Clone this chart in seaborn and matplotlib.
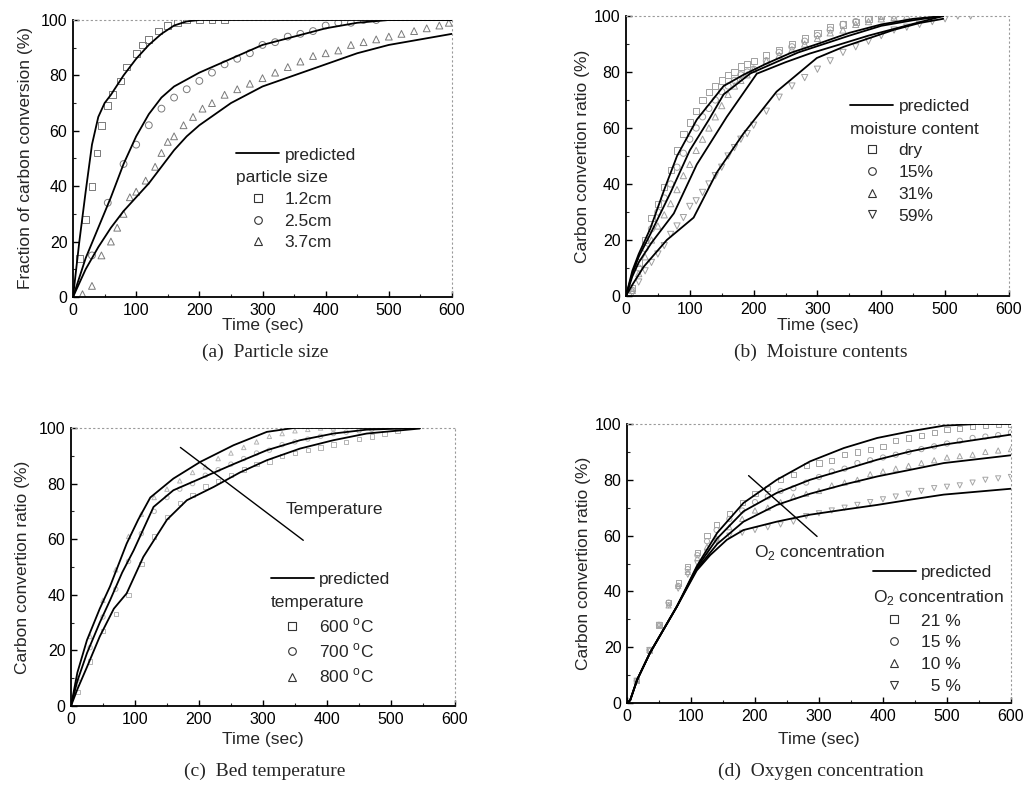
#!/usr/bin/env python3
"""Carbon conversion vs time: four parameter studies (predicted vs measured)."""

import matplotlib

matplotlib.use("Agg")
import matplotlib.pyplot as plt
import seaborn as sns
from matplotlib.lines import Line2D
from matplotlib.ticker import MultipleLocator

# ---------------- (a) particle size ----------------
a_labels = ["1.2cm", "2.5cm", "3.7cm"]
a_pred_t = [
    [0, 10, 20, 30, 40, 50, 60, 80, 100, 120, 140, 160, 180, 200, 600],
    [0, 20, 40, 60, 80, 100, 120, 140, 160, 200, 250, 300, 350, 400, 450, 500, 600],
    [0, 20, 40, 60, 80, 100, 120, 140, 160, 180, 200, 250, 300, 350, 400, 450, 500, 550, 600],
]
a_pred_y = [
    [0, 20, 38, 55, 65, 70, 73, 80, 86, 91, 95, 98, 99.5, 100, 100],
    [0, 14, 25, 36, 48, 58, 66, 72, 76, 81, 86, 91, 94, 97, 99, 100, 100],
    [0, 10, 18, 25, 31, 36, 41, 47, 53, 58, 62, 70, 76, 80, 84, 88, 91, 93, 95],
]
a_exp_t = [
    [10, 20, 30, 38, 45, 55, 62, 75, 85, 100, 110, 120, 135, 150, 165, 180, 200, 220, 240],
    [30, 55, 80, 100, 120, 140, 160, 180, 200, 220, 240, 260, 280, 300, 320, 340, 360,
     380, 400, 420, 440, 460, 480],
    [15, 30, 45, 60, 70, 80, 90, 100, 115, 130, 140, 150, 160, 175, 190, 205, 220, 240,
     260, 280, 300, 320, 340, 360, 380, 400, 420, 440, 460, 480, 500, 520, 540, 560, 580, 595],
]
a_exp_y = [
    [14, 28, 40, 52, 62, 69, 73, 78, 83, 88, 91, 93, 96, 98, 99, 100, 100, 100, 100],
    [15, 34, 48, 55, 62, 68, 72, 75, 78, 81, 84, 86, 88, 91, 92, 94, 95, 96, 98, 99, 99,
     100, 100],
    [1, 4, 15, 20, 25, 30, 36, 38, 42, 47, 52, 56, 58, 62, 65, 68, 70, 73, 75, 77, 79, 81,
     83, 85, 87, 88, 89, 91, 92, 93, 94, 95, 96, 97, 98, 99],
]

# ---------------- (b) moisture content ----------------
b_labels = ["dry", "15%", "31%", "59%"]
b_pred_t = [
    [0, 10, 20, 38, 60, 80, 111, 153, 184, 220, 260, 300, 350, 400, 450, 497],
    [0, 10, 20, 38, 70, 100, 130, 153, 195, 230, 270, 310, 350, 400, 450, 497],
    [0, 10, 20, 40, 75, 111, 158, 205, 250, 288, 330, 380, 430, 497],
    [0, 10, 28, 64, 106, 142, 184, 236, 299, 341, 380, 419, 460, 497],
]
b_pred_y = [
    [0, 9, 15, 24, 38, 50, 63, 75, 79, 83, 87, 90, 94, 97, 99, 100],
    [0, 8, 14, 22, 37, 52, 63, 72, 79.5, 83, 87, 90, 93, 96.5, 98.5, 100],
    [0, 7, 12, 19, 29.5, 47, 64, 79.4, 83.5, 86.6, 89.5, 93, 96, 100],
    [0, 4, 10.5, 20, 28, 44, 58, 73, 85, 89, 92, 95, 97.5, 99],
]
b_exp_t = [
    [10, 20, 30, 40, 50, 60, 70, 80, 90, 100, 110, 120, 130, 140, 150, 160, 170, 180, 190,
     200, 220, 240, 260, 280, 300, 320, 340, 360, 380, 400],
    [10, 20, 30, 40, 50, 60, 70, 80, 90, 100, 110, 120, 130, 140, 150, 160, 170, 180, 190,
     200, 220, 240, 260, 280, 300, 320, 340, 360, 380, 400, 420],
    [10, 20, 30, 40, 50, 60, 70, 80, 90, 100, 110, 120, 130, 140, 150, 160, 170, 180, 190,
     200, 220, 240, 260, 280, 300, 320, 340, 360, 380, 400, 420, 440],
    [10, 20, 30, 40, 50, 60, 70, 80, 90, 100, 110, 120, 130, 140, 150, 160, 170, 180, 190,
     200, 220, 240, 260, 280, 300, 320, 340, 360, 380, 400, 420, 440, 460, 480, 500, 520, 540],
]
b_exp_y = [
    [3, 12, 20, 28, 33, 39, 45, 52, 58, 62, 66, 70, 73, 75, 77, 79, 80, 82, 83, 84, 86,
     88, 90, 92, 94, 96, 97, 98, 99, 100],
    [2, 10, 17, 24, 30, 35, 40, 46, 51, 56, 60, 64, 67, 70, 73, 75, 77, 79, 80, 81, 84,
     87, 89, 91, 93, 95, 97, 98, 99, 100, 100],
    [2, 8, 14, 20, 25, 29, 33, 38, 43, 47, 52, 56, 60, 64, 68, 72, 75, 77, 79, 81, 84,
     86, 88, 90, 92, 94, 95, 97, 98, 99, 99.5, 100],
    [1, 5, 9, 12, 15, 18, 22, 25, 28, 32, 34, 37, 40, 43, 46, 50, 53, 56, 58, 61, 66, 71,
     75, 78, 81, 84, 87, 89, 91, 93, 95, 96, 97, 98, 99, 100, 100],
]

# ---------------- (c) bed temperature ----------------
c_labels = ["600 $^\\mathrm{o}$C", "700 $^\\mathrm{o}$C", "800 $^\\mathrm{o}$C"]
c_pred_t = [
    [0, 10, 25, 45, 67, 87, 113, 150, 181, 223, 264, 306, 358, 410, 462, 545],
    [0, 10, 25, 45, 61, 80, 98, 129, 160, 202, 254, 306, 358, 410, 462, 545],
    [0, 10, 25, 45, 61, 87, 105, 124, 160, 202, 254, 306, 348, 400, 545],
]
c_pred_y = [
    [0, 6, 14, 25, 35, 40.5, 53.6, 67, 74, 78.8, 84, 88.4, 92.6, 95.6, 98, 99.8],
    [0, 9, 19, 30, 38, 48, 56, 71.6, 77.6, 81.8, 87, 92, 95.6, 98, 99.4, 100],
    [0, 12, 23.7, 35, 43, 58.4, 67, 75, 81.8, 87.8, 93.8, 98.6, 100, 100, 100],
]
c_exp_t = [
    [10, 30, 50, 70, 90, 110, 130, 150, 170, 190, 210, 230, 250, 270, 290, 310, 330, 350,
     370, 390, 410, 430, 450, 470, 490, 510],
    [10, 30, 50, 70, 90, 110, 130, 150, 170, 190, 210, 230, 250, 270, 290, 310, 330, 350,
     370, 390, 410, 430, 450, 470],
    [10, 30, 50, 70, 90, 110, 130, 150, 170, 190, 210, 230, 250, 270, 290, 310, 330, 350,
     370, 390, 410],
]
c_exp_y = [
    [5, 16, 27, 33, 40, 51, 61, 68, 73, 76, 79, 81, 83, 85, 87, 88, 90, 91, 92, 93, 94,
     95, 96, 97, 98, 99],
    [8, 21, 32, 42, 52, 62, 70, 75, 78, 80, 83, 85, 87, 89, 91, 92, 94, 95, 96, 97, 98,
     98.5, 99, 99.5],
    [10, 25, 38, 49, 61, 69, 75, 78, 81, 84, 86, 89, 91, 93, 95, 97, 98, 99, 99.5, 100, 100],
]

# ---------------- (d) oxygen concentration ----------------
d_labels = ["21 %", "15 %", "10 %", "  5 %"]
d_pred_t = [
    [0, 5, 16, 36, 78, 109, 141, 182, 234, 286, 339, 391, 443, 495, 547, 600],
    [0, 5, 16, 36, 78, 109, 141, 182, 234, 286, 339, 391, 443, 495, 547, 600],
    [0, 5, 16, 36, 78, 109, 141, 182, 234, 286, 339, 391, 443, 495, 600],
    [0, 5, 16, 36, 78, 109, 130, 156, 182, 234, 286, 339, 391, 443, 495, 600],
]
d_pred_y = [
    [0, 1, 8.4, 18, 34.6, 49, 61, 71.7, 80, 86.6, 91.4, 95, 97.4, 99.4, 100, 100],
    [0, 1, 8.4, 18, 34.6, 48.5, 59, 68.7, 75.3, 80, 83.6, 87.2, 90.2, 92.6, 94.4, 96.2],
    [0, 1, 8.4, 18, 34.6, 48, 57, 65, 71, 75, 78.3, 81.2, 83.6, 86, 88.8],
    [0, 1, 8.4, 18, 34.6, 47.5, 53, 58.5, 62, 65, 67.5, 69.3, 71, 72.9, 74.7, 76.8],
]
d_exp_t = [
    [15, 35, 50, 65, 80, 95, 110, 125, 140, 160, 180, 200, 220, 240, 260, 280, 300, 320,
     340, 360, 380, 400, 420, 440, 460, 480, 500, 520, 540, 560, 580, 600],
    [15, 35, 50, 65, 80, 95, 110, 125, 140, 160, 180, 200, 220, 240, 260, 280, 300, 320,
     340, 360, 380, 400, 420, 440, 460, 480, 500, 520, 540, 560, 580, 600],
    [15, 35, 50, 65, 80, 95, 110, 125, 140, 160, 180, 200, 220, 240, 260, 280, 300, 320,
     340, 360, 380, 400, 420, 440, 460, 480, 500, 520, 540, 560, 580, 600],
    [15, 35, 50, 65, 80, 95, 110, 125, 140, 160, 180, 200, 220, 240, 260, 280, 300, 320,
     340, 360, 380, 400, 420, 440, 460, 480, 500, 520, 540, 560, 580, 600],
]
d_exp_y = [
    [8, 19, 28, 36, 43, 49, 54, 60, 64, 68, 72, 75, 77, 80, 82, 85, 86, 87, 89, 90, 91,
     92, 94, 95, 96, 97, 98, 98.5, 99, 99.5, 100, 100],
    [8, 19, 28, 36, 42, 48, 53, 58, 62, 66, 69, 72, 74, 76, 77, 79, 81, 83, 84, 86, 87,
     88, 89, 90, 91, 92, 93, 94, 95, 95.5, 96, 97],
    [8, 19, 28, 35, 42, 47, 52, 56, 59, 63, 66, 69, 70, 72, 74, 75, 76, 78, 79, 80, 82,
     83, 84, 85, 86, 87, 88, 88.5, 89, 90, 90.5, 91],
    [8, 19, 28, 35, 41, 46, 50, 54, 58, 60, 61, 62, 63, 64, 65, 67, 68, 69, 70, 71, 72,
     73, 74, 75, 76, 77, 77.5, 78, 79, 80, 80.5, 81],
]

MARKERS = ["s", "o", "^", "v"]

sns.set_theme(style="ticks")
plt.rcParams["font.family"] = ["Liberation Sans", "DejaVu Sans"]
plt.rcParams["mathtext.fontset"] = "custom"
plt.rcParams["mathtext.rm"] = "Liberation Sans"

fig = plt.figure(figsize=(10.27, 7.97), dpi=100)

panels = [
    dict(rect=[0.0711, 0.6274, 0.369, 0.3475], ylabel="Fraction of carbon conversion (%)",
         pt=a_pred_t, py=a_pred_y, et=a_exp_t, ey=a_exp_y, labels=a_labels,
         sub="particle size", leg=(0.43, 0.54), mcol="#7a7a7a", ms=24,
         cap="(a)  Particle size", cap_xy=(0.258, 0.558), xlab_y=0.592, lpad=6),
    dict(rect=[0.6095, 0.6286, 0.3729, 0.3513], ylabel="Carbon convertion ratio (%)",
         pt=b_pred_t, py=b_pred_y, et=b_exp_t, ey=b_exp_y, labels=b_labels,
         sub="moisture content", leg=(0.585, 0.705), mcol="#a0a0a0", ms=20,
         cap="(b)  Moisture contents", cap_xy=(0.799, 0.558), xlab_y=0.592, lpad=3),
    dict(rect=[0.0691, 0.1142, 0.3739, 0.3488], ylabel="Carbon convertion ratio (%)",
         pt=c_pred_t, py=c_pred_y, et=c_exp_t, ey=c_exp_y, labels=c_labels,
         sub="temperature", leg=(0.52, 0.482), mcol="#b5b5b5", ms=10,
         cap="(c)  Bed temperature", cap_xy=(0.258, 0.032), xlab_y=0.072, lpad=6),
    dict(rect=[0.6105, 0.1179, 0.3739, 0.3501], ylabel="Carbon convertion ratio (%)",
         pt=d_pred_t, py=d_pred_y, et=d_exp_t, ey=d_exp_y, labels=d_labels,
         sub="O$_2$ concentration", leg=(0.64, 0.495), mcol="#a5a5a5", ms=14,
         cap="(d)  Oxygen concentration", cap_xy=(0.799, 0.032), xlab_y=0.072, lpad=3),
]

for p in panels:
    ax = fig.add_axes(p["rect"])
    for i, (t, y) in enumerate(zip(p["et"], p["ey"])):
        sns.scatterplot(x=t, y=y, marker=MARKERS[i], s=p["ms"], facecolor="none",
                        edgecolor=p["mcol"], linewidth=0.7, ax=ax, zorder=2)
    for t, y in zip(p["pt"], p["py"]):
        sns.lineplot(x=t, y=y, color="black", linewidth=1.3, ax=ax, zorder=3)

    ax.set_xlim(0, 600)
    ax.set_ylim(0, 100)
    ax.xaxis.set_major_locator(MultipleLocator(100))
    ax.xaxis.set_minor_locator(MultipleLocator(50))
    ax.yaxis.set_major_locator(MultipleLocator(20))
    ax.yaxis.set_minor_locator(MultipleLocator(10))
    ax.tick_params(which="major", direction="in", length=4, width=1, labelsize=11.5,
                   top=False, right=False, colors="black", pad=4)
    ax.tick_params(which="minor", direction="in", length=2.5, width=0.8,
                   top=False, right=False)
    for side in ["left", "bottom"]:
        ax.spines[side].set_linewidth(1.3)
        ax.spines[side].set_color("black")
    for side in ["top", "right"]:
        ax.spines[side].set_linestyle((0, (1, 3)))
        ax.spines[side].set_color("#9a9a9a")
        ax.spines[side].set_linewidth(0.8)
    ax.set_ylabel(p["ylabel"], fontsize=12.5, labelpad=p["lpad"])
    ax.set_xlabel("")
    ax.grid(False)

    # x label and caption placed in figure coordinates
    r = p["rect"]
    fig.text(r[0] + r[2] * 0.5, p["xlab_y"], "Time (sec)", ha="center", va="center",
             fontsize=12.5)
    fig.text(p["cap_xy"][0], p["cap_xy"][1], p["cap"], ha="center", va="center",
             fontsize=14, family=["Liberation Serif", "DejaVu Serif"])

    # legend: predicted line, sub heading, experimental markers
    lx, ly = p["leg"]
    line_h = [Line2D([], [], color="black", linewidth=1.3)]
    leg1 = ax.legend(line_h, ["predicted"], loc="upper left", bbox_to_anchor=(lx, ly),
                     frameon=False, fontsize=12.5, handlelength=2.5, handletextpad=0.3,
                     borderpad=0, borderaxespad=0)
    ax.add_artist(leg1)
    mk_h = [Line2D([], [], linestyle="none", marker=MARKERS[i], markersize=5.5,
                   markerfacecolor="none", markeredgecolor="#333333", markeredgewidth=0.8)
            for i in range(len(p["labels"]))]
    leg2 = ax.legend(mk_h, p["labels"], loc="upper left",
                     bbox_to_anchor=(lx, ly - 0.082), frameon=False, fontsize=12.5,
                     title=p["sub"], title_fontsize=12.5, alignment="left",
                     handlelength=2.5, handletextpad=0.3, labelspacing=0.38,
                     borderpad=0, borderaxespad=0)

    if p["sub"] == "temperature":
        ax.plot([363, 171], [59.6, 93], color="black", linewidth=1)
        ax.text(335, 70.7, "Temperature", ha="left", va="center", fontsize=12.5)
    if p["sub"].startswith("O"):
        ax.plot([297, 190], [59.7, 81.5], color="black", linewidth=1)
        ax.text(198, 54, "O$_2$ concentration", ha="left", va="center", fontsize=12.5)

fig.savefig("out.png", dpi=100)
